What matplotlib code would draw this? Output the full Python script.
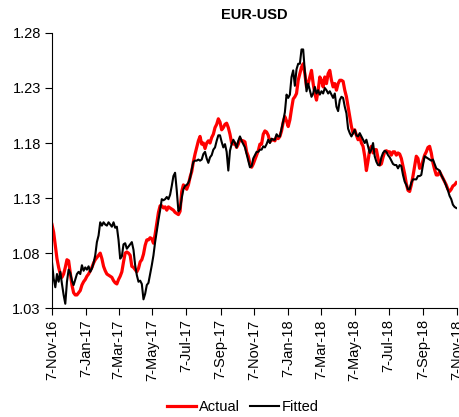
import matplotlib
matplotlib.use("Agg")
import matplotlib.pyplot as plt
import pandas as pd

plt.rcParams['font.family'] = ['Liberation Sans', 'DejaVu Sans']

start_date = "2016-11-07"
step = "3D"

actual = [1.106, 1.099, 1.087, 1.075, 1.067, 1.061, 1.058, 1.061, 1.067, 1.074,
          1.073, 1.062, 1.051, 1.044, 1.042, 1.042, 1.044, 1.046, 1.051, 1.054,
          1.056, 1.059, 1.061, 1.064, 1.067, 1.071, 1.074, 1.076, 1.078, 1.080,
          1.075, 1.068, 1.064, 1.061, 1.060, 1.059, 1.058, 1.055, 1.053, 1.052,
          1.056, 1.059, 1.063, 1.072, 1.080, 1.081, 1.080, 1.078, 1.068,
          1.067, 1.065, 1.063, 1.066, 1.072, 1.074, 1.079, 1.087, 1.092, 1.092,
          1.094, 1.093, 1.089, 1.097, 1.107, 1.117, 1.123, 1.123, 1.121, 1.122,
          1.119, 1.122, 1.121, 1.120, 1.119, 1.117, 1.116, 1.115, 1.118, 1.136,
          1.142, 1.140, 1.138, 1.142, 1.149, 1.154, 1.163, 1.170, 1.176, 1.182,
          1.186, 1.179, 1.180, 1.175, 1.180, 1.182, 1.180, 1.185, 1.188,
          1.194, 1.197, 1.202, 1.199, 1.192, 1.194, 1.197, 1.198, 1.194, 1.188,
          1.180, 1.179, 1.180, 1.176, 1.179, 1.184, 1.182, 1.182, 1.181, 1.172,
          1.168, 1.161, 1.158, 1.161, 1.165, 1.169, 1.173, 1.179, 1.179, 1.188,
          1.191, 1.190, 1.187, 1.181, 1.183, 1.183, 1.182, 1.186, 1.184, 1.186,
          1.191, 1.199, 1.204, 1.200, 1.195, 1.201, 1.211, 1.220, 1.222,
          1.225, 1.237, 1.243, 1.249, 1.252, 1.243, 1.231, 1.234, 1.240, 1.246,
          1.234, 1.225, 1.219, 1.228, 1.240, 1.237, 1.231, 1.240, 1.234, 1.243,
          1.246, 1.237, 1.231, 1.234, 1.228, 1.234, 1.237, 1.237, 1.236, 1.228,
          1.222, 1.213, 1.204, 1.195, 1.189, 1.192, 1.187, 1.183, 1.186, 1.180,
          1.177, 1.168, 1.155, 1.164, 1.174, 1.177, 1.171, 1.174, 1.174,
          1.166, 1.160, 1.161, 1.167, 1.172, 1.173, 1.172, 1.172, 1.169, 1.172,
          1.172, 1.169, 1.171, 1.170, 1.166, 1.159, 1.152, 1.143, 1.137, 1.136,
          1.142, 1.150, 1.159, 1.168, 1.166, 1.157, 1.158, 1.164, 1.169, 1.172,
          1.176, 1.177, 1.171, 1.162, 1.156, 1.151, 1.151, 1.154, 1.151, 1.148,
          1.145, 1.142, 1.138, 1.136, 1.138, 1.141, 1.142, 1.144]

fitted = [1.072, 1.057, 1.049, 1.061, 1.054, 1.063, 1.052, 1.042, 1.034, 1.054,
          1.065, 1.062, 1.055, 1.051, 1.056, 1.061, 1.063, 1.061, 1.069, 1.064,
          1.067, 1.065, 1.068, 1.063, 1.066, 1.071, 1.078, 1.090, 1.096, 1.108,
          1.105, 1.108, 1.106, 1.105, 1.108, 1.106, 1.104, 1.108, 1.103, 1.104,
          1.092, 1.075, 1.077, 1.088, 1.089, 1.084, 1.086, 1.088, 1.090,
          1.083, 1.069, 1.060, 1.054, 1.055, 1.052, 1.038, 1.043, 1.051, 1.053,
          1.061, 1.069, 1.078, 1.090, 1.100, 1.110, 1.119, 1.129, 1.128, 1.129,
          1.131, 1.129, 1.133, 1.141, 1.150, 1.153, 1.137, 1.118, 1.120, 1.130,
          1.138, 1.141, 1.142, 1.144, 1.148, 1.156, 1.163, 1.164, 1.164, 1.165,
          1.164, 1.165, 1.170, 1.172, 1.166, 1.162, 1.167, 1.169, 1.174,
          1.176, 1.182, 1.187, 1.187, 1.181, 1.176, 1.179, 1.172, 1.155, 1.173,
          1.179, 1.183, 1.180, 1.176, 1.182, 1.186, 1.182, 1.179, 1.176, 1.170,
          1.164, 1.158, 1.159, 1.166, 1.169, 1.172, 1.172, 1.174, 1.174, 1.177,
          1.176, 1.179, 1.183, 1.180, 1.184, 1.183, 1.183, 1.188, 1.186, 1.186,
          1.193, 1.200, 1.208, 1.224, 1.221, 1.224, 1.240, 1.246, 1.232,
          1.247, 1.252, 1.252, 1.265, 1.265, 1.245, 1.227, 1.234, 1.228, 1.222,
          1.225, 1.231, 1.225, 1.228, 1.224, 1.227, 1.225, 1.230, 1.228, 1.225,
          1.227, 1.224, 1.221, 1.225, 1.213, 1.209, 1.219, 1.222, 1.221, 1.213,
          1.207, 1.193, 1.189, 1.186, 1.189, 1.192, 1.187, 1.186, 1.189, 1.186,
          1.183, 1.180, 1.183, 1.177, 1.171, 1.174, 1.180, 1.168, 1.163,
          1.160, 1.160, 1.167, 1.171, 1.173, 1.172, 1.169, 1.167, 1.164, 1.161,
          1.160, 1.160, 1.157, 1.160, 1.159, 1.151, 1.145, 1.142, 1.138, 1.138,
          1.144, 1.147, 1.147, 1.147, 1.150, 1.150, 1.151, 1.160, 1.168, 1.167,
          1.166, 1.165, 1.164, 1.165, 1.161, 1.157, 1.156, 1.155, 1.151, 1.148,
          1.145, 1.141, 1.137, 1.132, 1.129, 1.124, 1.122, 1.121]

y_ticks = [1.03, 1.08, 1.13, 1.18, 1.23, 1.28]
x_tick_labels = ["7-Nov-16", "7-Jan-17", "7-Mar-17", "7-May-17", "7-Jul-17", "7-Sep-17",
                 "7-Nov-17", "7-Jan-18", "7-Mar-18", "7-May-18", "7-Jul-18", "7-Sep-18",
                 "7-Nov-18"]

dates_a = pd.date_range(start_date, periods=len(actual), freq=step)
dates_f = pd.date_range(start_date, periods=len(fitted), freq=step)
tick_dates = pd.to_datetime(x_tick_labels, format="%d-%b-%y")

fig = plt.figure(figsize=(4.6, 4.17), dpi=100)
ax = fig.add_axes([0.113, 0.261, 0.88, 0.66])

ax.plot(dates_a, actual, color="#FF0000", lw=2.3, label="Actual", solid_joinstyle="round")
ax.plot(dates_f, fitted, color="black", lw=1.5, label="Fitted", solid_joinstyle="round")

ax.set_ylim(1.03, 1.28)
ax.set_yticks(y_ticks)
ax.set_yticklabels([f"{v:.2f}" for v in y_ticks], fontsize=10.5)
ax.set_xlim(tick_dates[0], tick_dates[-1])
ax.set_xticks(tick_dates)
ax.set_xticklabels(x_tick_labels, rotation=90, fontsize=10.5)

for s in ["top", "right"]:
    ax.spines[s].set_visible(False)
for s in ["left", "bottom"]:
    ax.spines[s].set_color("black")
    ax.spines[s].set_linewidth(0.8)
ax.tick_params(axis="both", direction="out", length=5, width=0.8, colors="black", pad=3)

ax.set_title("EUR-USD", fontsize=10.5, fontweight="bold", pad=10)

fig.legend(loc="lower center", bbox_to_anchor=(0.528, -0.025), ncol=2, frameon=False,
           fontsize=10.5, handlelength=2.0, columnspacing=0.7, handletextpad=0.2)

fig.savefig("out.png", dpi=100)
